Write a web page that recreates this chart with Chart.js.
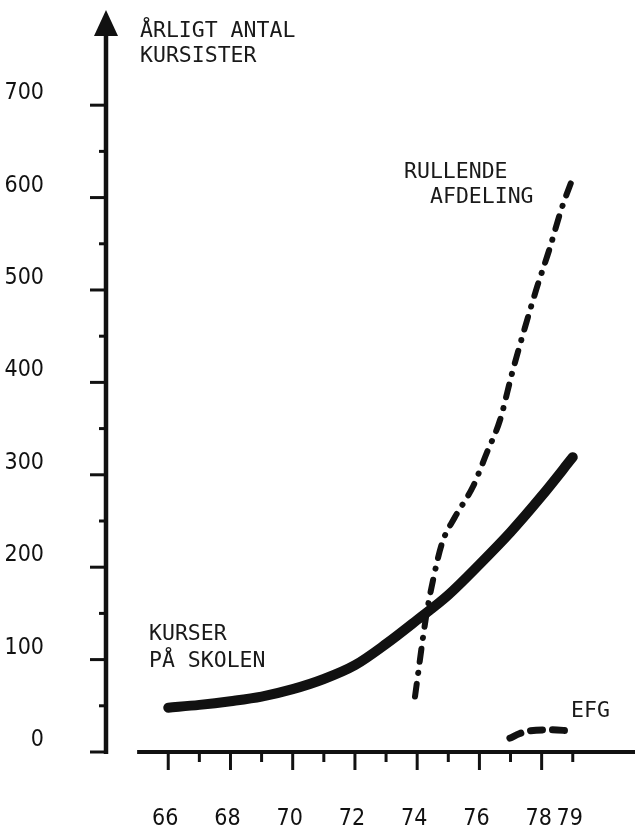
<!DOCTYPE html>
<html>
<head>
<meta charset="utf-8">
<script src="https://cdn.jsdelivr.net/npm/chart.js@4.4.1/dist/chart.umd.min.js"></script>
<style>
  html, body { margin: 0; padding: 0; background: #fff; }
  canvas { display: block; }
</style>
</head>
<body>
<canvas id="grafKursister" width="635" height="828"></canvas>
<script>
// aksernes tal
const aarTicks = [66, 68, 70, 72, 74, 76, 78, 79];
const antalTicks = [0, 100, 200, 300, 400, 500, 600, 700];

// kurser paa skolen (fuldt optrukken)
const kurserAar = [66, 67, 68, 69, 70, 71, 72, 73, 74, 75, 76, 77, 78, 79];
const kurserAntal = [48, 51, 55, 60, 68, 79, 94, 117, 143, 170, 203, 238, 277, 319];

// rullende afdeling (streg-prik)
const rullendeAar = [73.93, 74.28, 74.51, 74.8, 75.21, 75.79, 76.24, 76.66, 77.05, 77.46, 77.85, 78.24, 78.65, 79.01];
const rullendeAntal = [60, 145, 186, 226, 254, 287, 324, 359, 410, 459, 503, 543, 589, 622];

// EFG (stiplet)
const efgAar = [76.98, 77.3, 77.62, 78.3, 78.9];
const efgAntal = [15, 20, 23, 24, 23];

const tekstFont = '21.5px "DejaVu Sans Mono", monospace';
const talFont = { family: "'DejaVu Sans Condensed', sans-serif", size: 23 };

function punkter(xs, ys) {
    return xs.map((x, i) => ({ x: x, y: ys[i] }));
}

const akser = {
    id: 'akser',
    afterDraw(chart) {
        const ctx = chart.ctx;
        const x = chart.scales.x;
        const y = chart.scales.y;
        const x0 = chart.chartArea.left;
        const y0 = y.getPixelForValue(0);
        const top = chart.chartArea.top;
        ctx.save();
        ctx.strokeStyle = '#111';
        ctx.fillStyle = '#111';

        // y-akse med pil
        ctx.lineWidth = 4.5;
        ctx.beginPath();
        ctx.moveTo(x0, y0 + 2);
        ctx.lineTo(x0, top + 22);
        ctx.stroke();
        ctx.beginPath();
        ctx.moveTo(x0, top);
        ctx.lineTo(x0 - 12, top + 26);
        ctx.lineTo(x0 + 12, top + 26);
        ctx.closePath();
        ctx.fill();

        ctx.lineWidth = 3;
        antalTicks.forEach(v => {
            let py = y.getPixelForValue(v);
            ctx.beginPath(); ctx.moveTo(x0 - 16, py); ctx.lineTo(x0, py); ctx.stroke();
            if (v < antalTicks[antalTicks.length - 1]) {
                py = y.getPixelForValue(v + 50);
                ctx.beginPath(); ctx.moveTo(x0 - 7, py); ctx.lineTo(x0, py); ctx.stroke();
            }
        });

        // x-akse
        ctx.lineWidth = 4;
        ctx.beginPath();
        ctx.moveTo(x.getPixelForValue(65), y0);
        ctx.lineTo(chart.chartArea.right, y0);
        ctx.stroke();
        ctx.lineWidth = 3;
        for (let aar = 66; aar <= 79; aar++) {
            const px = x.getPixelForValue(aar);
            const len = aar % 2 === 0 ? 18 : 10;
            ctx.beginPath(); ctx.moveTo(px, y0); ctx.lineTo(px, y0 + len); ctx.stroke();
        }
        ctx.restore();
    }
};

const tekster = {
    id: 'tekster',
    afterDraw(chart) {
        const ctx = chart.ctx;
        ctx.save();
        ctx.font = tekstFont;
        ctx.fillStyle = '#1a1a1a';
        ctx.textBaseline = 'alphabetic';
        ctx.fillText('ÅRLIGT ANTAL', 140, 37);
        ctx.fillText('KURSISTER', 140, 62);
        ctx.fillText('RULLENDE', 404, 178);
        ctx.fillText('AFDELING', 430, 203);
        ctx.fillText('KURSER', 149, 640);
        ctx.fillText('PÅ SKOLEN', 149, 667);
        ctx.fillText('EFG', 571, 717);
        ctx.restore();
    }
};

new Chart(document.getElementById('grafKursister'), {
    type: 'line',
    data: {
        datasets: [{
            label: 'Kurser på skolen',
            data: punkter(kurserAar, kurserAntal),
            borderColor: '#111',
            borderWidth: 10,
            borderCapStyle: 'round',
            borderJoinStyle: 'round',
            cubicInterpolationMode: 'monotone',
            pointRadius: 0
        }, {
            label: 'Rullende afdeling',
            data: punkter(rullendeAar, rullendeAntal),
            borderColor: '#111',
            borderWidth: 6,
            borderDash: [13, 11, 0.1, 11],
            borderCapStyle: 'round',
            cubicInterpolationMode: 'monotone',
            pointRadius: 0
        }, {
            label: 'EFG',
            data: punkter(efgAar, efgAntal),
            borderColor: '#111',
            borderWidth: 7,
            borderDash: [12, 10],
            borderCapStyle: 'round',
            cubicInterpolationMode: 'monotone',
            pointRadius: 0
        }]
    },
    options: {
        responsive: false,
        animation: false,
        devicePixelRatio: 1,
        layout: { padding: { top: 10 } },
        plugins: { legend: { display: false }, tooltip: { enabled: false } },
        scales: {
            x: {
                type: 'linear',
                min: 64,
                max: 81,
                grid: { display: false },
                border: { display: false },
                afterBuildTicks: s => { s.ticks = aarTicks.map(v => ({ value: v })); },
                afterFit: s => { s.height = 76; s.paddingLeft = 0; s.paddingRight = 0; },
                ticks: { padding: 45, labelOffset: -3, autoSkip: false, maxRotation: 0, color: '#111', font: talFont }
            },
            y: {
                min: 0,
                max: 803,
                grid: { display: false },
                border: { display: false },
                afterBuildTicks: s => { s.ticks = antalTicks.map(v => ({ value: v })); },
                afterFit: s => { s.width = 106; s.paddingTop = 0; s.paddingBottom = 0; },
                ticks: { padding: 54, labelOffset: -12, color: '#111', font: talFont }
            }
        }
    },
    plugins: [akser, tekster]
});
</script>
</body>
</html>
